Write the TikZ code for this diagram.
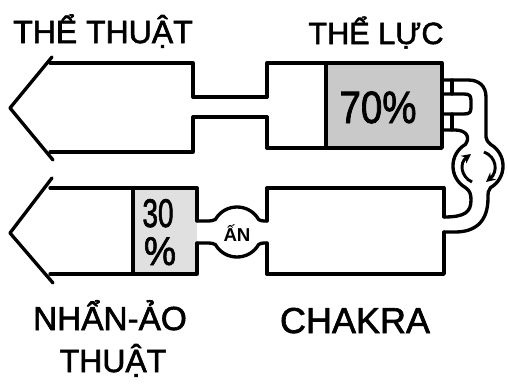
\documentclass[tikz,border=0pt]{standalone}
\usepackage{fontspec}
\usepackage{graphicx}
\setmainfont{Liberation Sans}
\newfontfamily\heavyfont{Liberation Sans}[FakeBold=1.8]
\usetikzlibrary{arrows.meta}
\begin{document}
\begin{tikzpicture}[x=0.75pt,y=-0.75pt,
  ln/.style={line width=2.5pt,line join=round,line cap=round},
  rot/.style={line width=2.2pt,-{Stealth[length=7pt,width=7pt]}},
  lbl/.style={inner sep=0pt,anchor=base,font=\heavyfont\fontsize{24}{28}\selectfont},
  pct/.style={inner sep=0pt,anchor=base},
  shadeA/.style={fill=black!21},
  shadeB/.style={fill=black!12}]
\useasboundingbox (0,0) rectangle (508,386);
% shaded regions
\fill[shadeA] (326,63) rectangle (442,148);
\fill[shadeB] (133,188) rectangle (197,274);
% ---------- top-left arrow (THE THUAT)
\draw[ln] (193,97) -- (193,63) -- (50,63);
\draw[ln] (52,57) -- (10,108) -- (53,160);
\draw[ln] (50,152) -- (193,152) -- (193,117);
% neck
\draw[ln] (193,97) -- (267,97);
\draw[ln] (193,117) -- (267,117);
% ---------- top-right box (THE LUC)
\draw[ln] (267,97) -- (267,63) -- (442,63) -- (442,148) -- (267,148) -- (267,117);
\draw[ln] (326,63) -- (326,148);
% plug
\draw[ln] (452,80) -- (452,94);
\draw[ln] (452,114) -- (452,130);
\draw[ln] (443,94) -- (464,94) .. controls (470,94) and (471,96) .. (471,101) -- (471,107) .. controls (471,112) and (470,114) .. (464,114) -- (443,114);
% ---------- lower-left arrow (NHAN-AO THUAT)
\draw[ln] (197,221) -- (197,188) -- (50,188);
\draw[ln] (52,178) -- (10,233) -- (53,283);
\draw[ln] (50,274) -- (197,274) -- (197,243);
\draw[ln] (133,188) -- (133,274);
% AN bulb
\draw[ln] (197,221) -- (207,221) .. controls (211,221) and (213.5,220.5) .. (215.35,219.5)
  .. controls (224.98,202.83) and (249.02,202.83) .. (258.65,219.5)
  .. controls (260,220.5) and (262,221) .. (264,221) -- (267,221);
\draw[ln] (197,243) -- (207,243) .. controls (211,243) and (213.5,243.5) .. (215.35,244.5)
  .. controls (224.98,261.17) and (249.02,261.17) .. (258.65,244.5)
  .. controls (260,243.5) and (262,243) .. (264,243) -- (267,243);
% ---------- lower-right box (CHAKRA)
\draw[ln] (267,221) -- (267,188) -- (444,188) -- (444,217);
\draw[ln] (444,232) -- (444,274) -- (267,274) -- (267,243);
% ---------- right pipe with rotation bulb
% outer line
\draw[ln] (442,80) -- (468,80) .. controls (479,80) and (486,86) .. (486,97) -- (486,137)
  .. controls (486,140) and (488,142) .. (490.5,144.35)
  .. controls (507.2,153.98) and (507.2,178.02) .. (490.5,187.65)
  .. controls (488,190) and (488,193) .. (488,198)
  .. controls (488,222) and (475,232) .. (455,232) -- (444,232);
% inner line
\draw[ln] (442,130) -- (455,130) .. controls (465,130) and (471,136) .. (465.5,144.35)
  .. controls (448.8,153.98) and (448.8,178.02) .. (465.5,187.65)
  .. controls (470,191) and (471,194) .. (471,200)
  .. controls (471,212) and (465,217) .. (444,217);
% rotation arrows
\draw[rot] (472,182) .. controls (461,177) and (459,163) .. (471,154);
\draw[rot] (484,152) .. controls (497,157) and (498,172) .. (486,182);
% ---------- texts
\node[lbl] (tt) at (103,43) {THỂ THUẬT};
\node[lbl,font=\heavyfont\fontsize{23}{28}\selectfont] (tl) at (376,44) {THỂ LỰC};
\node[lbl,font=\heavyfont\fontsize{25}{28}\selectfont] (na) at (110,330) {NHẨN-ẢO};
\node[lbl] (th) at (113,372) {THUẬT};
\node[lbl,font=\heavyfont\fontsize{27}{30}\selectfont] (ck) at (355,333) {CHAKRA};
\node[pct,font=\heavyfont\fontsize{34}{36}\selectfont] (p70) at (378,123) {\scalebox{0.85}[1]{70\%}};
\node[pct,font=\heavyfont\fontsize{30}{32}\selectfont] (p30) at (158,227) {\scalebox{0.7}[1]{30}};
\node[pct,font=\heavyfont\fontsize{30}{32}\selectfont] (pp) at (160,265) {\scalebox{0.9}[1]{\%}};
\node[pct,font=\fontsize{14}{15}\selectfont\bfseries] (an) at (237,241) {ẤN};
\end{tikzpicture}
\end{document}
